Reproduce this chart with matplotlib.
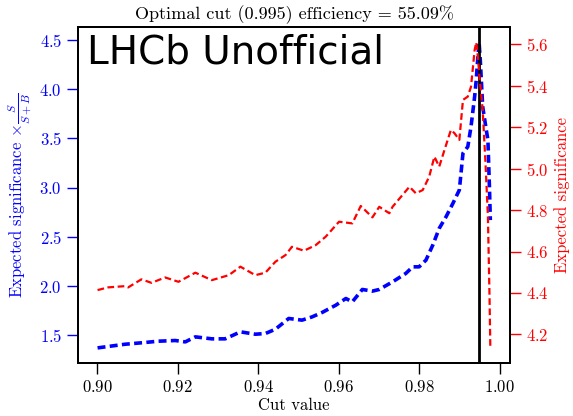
import matplotlib
matplotlib.use("Agg")
import matplotlib.pyplot as plt

plt.rcParams['font.family'] = 'serif'
plt.rcParams['font.serif'] = ['cmr10']
plt.rcParams['mathtext.fontset'] = 'cm'
plt.rcParams['axes.formatter.use_mathtext'] = True
plt.rcParams['axes.unicode_minus'] = False
plt.rcParams['axes.linewidth'] = 1.4

# significance x S/(S+B) vs cut
x_blue = [0.9001, 0.9069, 0.9119, 0.9152, 0.9194, 0.9219, 0.9244, 0.9285, 0.9318,
          0.9356, 0.9393, 0.9418, 0.9443, 0.9476, 0.9509, 0.9534, 0.9559, 0.9593,
          0.9618, 0.9634, 0.9659, 0.9684, 0.9701, 0.9734, 0.9767, 0.9784, 0.9800,
          0.9817, 0.9834, 0.9850, 0.9867, 0.9884, 0.9900, 0.9909, 0.9921, 0.9929,
          0.9938, 0.9942, 0.9946, 0.9949, 0.9952, 0.9958, 0.9967, 0.9971, 0.9975,
          0.9977]
blue = [1.371, 1.408, 1.426, 1.439, 1.446, 1.432, 1.483, 1.463, 1.463,
        1.534, 1.510, 1.517, 1.561, 1.670, 1.653, 1.686, 1.731, 1.805,
        1.873, 1.839, 1.965, 1.948, 1.965, 2.042, 2.128, 2.195, 2.195,
        2.263, 2.416, 2.586, 2.704, 2.840, 2.976, 3.349, 3.416, 3.620,
        3.925, 4.094, 4.331, 4.477, 4.300, 3.823, 3.585, 3.484, 2.976,
        2.670]

# expected significance vs cut
x_red = [0.9001, 0.9027, 0.9069, 0.9077, 0.9110, 0.9135, 0.9169, 0.9202, 0.9244,
         0.9285, 0.9327, 0.9356, 0.9393, 0.9418, 0.9443, 0.9468, 0.9484, 0.9514,
         0.9543, 0.9568, 0.9601, 0.9634, 0.9655, 0.9684, 0.9701, 0.9726, 0.9734,
         0.9776, 0.9792, 0.9809, 0.9825, 0.9838, 0.9850, 0.9863, 0.9879, 0.9888,
         0.9900, 0.9909, 0.9921, 0.9929, 0.9938, 0.9942, 0.9946, 0.9950, 0.9958,
         0.9965, 0.9971, 0.9975, 0.9977]
red = [4.414, 4.427, 4.433, 4.427, 4.466, 4.449, 4.475, 4.454, 4.498,
       4.462, 4.486, 4.527, 4.486, 4.498, 4.551, 4.583, 4.623, 4.604,
       4.631, 4.672, 4.744, 4.736, 4.820, 4.765, 4.816, 4.785, 4.816,
       4.913, 4.881, 4.897, 4.961, 5.058, 5.010, 5.090, 5.187, 5.171,
       5.139, 5.332, 5.348, 5.396, 5.573, 5.610, 5.541, 5.444, 5.284,
       5.026, 4.768, 4.382, 4.135]

best_cut = 0.995
efficiency = 55.09

fig = plt.figure(figsize=(5.73, 4.16), dpi=100)
ax = fig.add_axes([0.136, 0.127, 0.754, 0.808])
ax.plot(x_blue, blue, color='blue', lw=2.6, dashes=(2.2, 1.2))
ax.axvline(best_cut, color='black', lw=2)
ax.set_xlabel('Cut value', fontsize=12, labelpad=2)
ax.set_ylabel(r'Expected significance $\times\frac{S}{S+B}$', color='blue', fontsize=12)
ax.tick_params(axis='y', colors='blue', labelsize=12, length=8, width=1)
ax.tick_params(axis='x', labelsize=12, length=8, width=1)
ax.set_xticks([0.90, 0.92, 0.94, 0.96, 0.98, 1.00])
ax.set_title('Optimal cut (%.3f) efficiency = %.2f%%' % (best_cut, efficiency), fontsize=13)
ax.text(0.02, 0.98, 'LHCb Unofficial', transform=ax.transAxes, fontsize=28,
        family='DejaVu Sans', va='top', ha='left')

ax2 = ax.twinx()
ax2.plot(x_red, red, color='red', lw=1.6, dashes=(3, 1.6))
ax2.set_ylabel('Expected significance', color='red', fontsize=12)
ax2.tick_params(axis='y', colors='red', labelsize=12, length=8, width=1)

fig.savefig('out.png', dpi=100)
